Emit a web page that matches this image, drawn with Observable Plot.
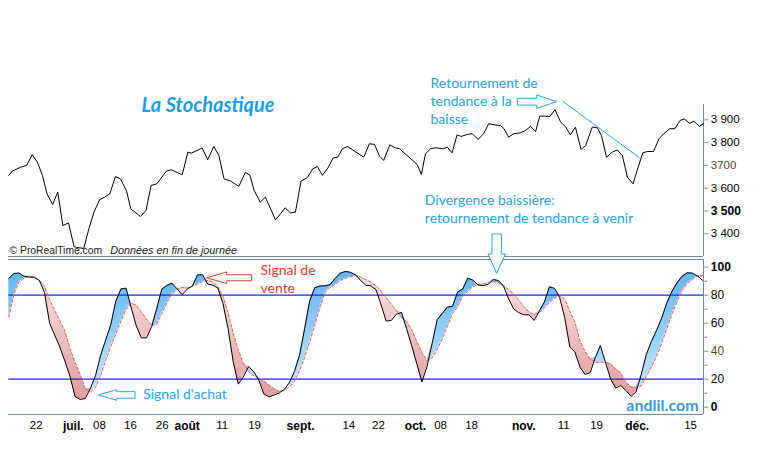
<!DOCTYPE html>
<html><head><meta charset="utf-8">
<script src="https://cdn.jsdelivr.net/npm/d3@7"></script>
<script src="https://cdn.jsdelivr.net/npm/@observablehq/plot@0.6"></script>
<style>
html,body{margin:0;padding:0;background:#fff;}
#wrap{position:relative;width:758px;height:453px;overflow:hidden;background:#fff;}
#wrap svg{position:absolute;left:0;top:0;}
</style></head><body><div id="wrap"></div>
<script>
// ---------- data ----------
// price (closing level) read at each visible vertex, x = trading-day index
const priceDay = [0,0.7,2.3,3.5,4.6,5.6,6.6,7.5,8.6,9.6,10.6,11.7,12.8,13.3,14.7,15.7,16.7,17.8,18.8,19.8,20.9,21.9,23.1,23.9,25.8,26.9,27.9,29.0,30.9,31.8,34.0,35.1,35.8,37.6,37.9,39.0,40.2,41.2,42.2,43.5,45.1,46.4,47.3,48.1,49.3,50.3,52.3,54.2,55.2,56.2,57.3,58.5,59.6,60.5,61.5,62.6,63.6,64.5,65.4,66.4,69.6,70.7,71.7,72.7,73.5,74.7,75.8,76.6,78.1,79.6,80.1,80.9,81.7,82.7,83.7,85.2,86.0,86.9,87.9,88.7,89.9,90.9,92.0,93.1,94.1,95.4,96.4,97.1,98.0,99.0,100.3,101.3,102.3,103.3,104.1,105.2,106.1,107.1,108.2,109.2,110.1,111.1,112.2,113.1,114.4,115.4,116.2,117.2,118.3,119.3,120.3,121.3,122.4,123.2,124.3,125.2,126.4,127.5,128.4,129.6,130.6,131.6,132.4,133.5,134.3,135.4,136.2];
const priceClose = [3656,3675,3692,3700,3747,3714,3656,3575,3529,3583,3436,3448,3344,3340,3336,3422,3495,3549,3561,3575,3651,3641,3587,3510,3476,3502,3612,3619,3675,3681,3659,3758,3754,3773,3777,3725,3783,3743,3641,3631,3608,3670,3656,3590,3539,3561,3461,3514,3492,3495,3631,3646,3685,3695,3656,3690,3733,3736,3773,3783,3736,3795,3792,3740,3722,3790,3777,3773,3743,3714,3703,3660,3751,3773,3777,3773,3780,3755,3834,3827,3836,3839,3814,3839,3883,3877,3875,3861,3824,3839,3843,3853,3871,3849,3916,3916,3915,3944,3890,3868,3834,3868,3770,3787,3868,3865,3831,3736,3758,3768,3743,3648,3619,3678,3755,3761,3761,3817,3839,3861,3861,3897,3904,3885,3894,3871,3883];

// stochastic %K (black) and %D (dashed red), one value per trading day
const stochK = [92,95.5,95.8,93.5,92.9,92.8,90.5,82,60,51.5,
 43,33,22,7.5,5.5,6.2,13.5,22.5,37,48,
 59,76,84.5,85,71,58,49.5,49.5,57.5,70.4,
 84.3,87,88.6,84.5,80.3,84.5,86.5,94.5,94.6,88,
 87.2,85,74,56,32.5,16.5,21.7,29,25.5,19.5,
 9.5,7.3,8.7,10.2,12.6,17.5,25.5,37,56,76,
 85.3,86.5,86.7,87.6,92,95.8,96.9,96.4,94.5,90.5,
 87.1,86.7,84,73,61.5,62,66.5,67.7,56,44,
 31,18,29,45.5,62.5,67,71.5,72,82.2,84.4,
 92.2,90.8,87.3,86.9,87.8,91.2,90.5,86.5,77.4,70.2,
 67.5,66,66,62,68.5,75,86,84.9,78.5,64,
 43,39.4,28.5,23.4,24.7,35.5,44,31.9,20.2,13.7,
 15.5,11.9,7.8,11,23.3,37.6,47,54.8,63.5,74.3,
 82.5,88.8,93.5,96,95.8,93.8,90.7];
const stochD = [64.3,80.8,89.6,92.1,93.8,92.7,90.6,86.5,76.9,69.2,
 61.8,54.3,42.0,31.9,23.4,13.1,10.7,14.3,22.6,33.6,
 43.3,52.5,61.5,69.8,74.3,72.9,68.0,63.1,58.2,59.3,
 66.9,74.6,80.9,84.1,85.6,85.2,86.5,88.0,89.7,90.5,
 89.5,86.3,79.0,67.3,52.7,41.1,31.2,25.4,22.6,20.9,
 18.6,15.9,13.1,11.3,12.0,14.6,18.6,25.9,35.6,46.7,
 58.6,71.3,81.7,85.6,87.7,90.5,92.1,93.2,93.8,92.9,
 91.1,89.2,86.8,82.9,78.3,73.7,69.0,63.8,61.2,55.3,
 46.9,39.3,33.3,35.1,41.5,48.8,57.9,66.9,71.7,79.2,
 82.9,86.2,87.3,88.2,88.9,89.6,88.9,86.9,84.1,81.0,
 76.4,71.8,67.9,66.2,67.6,70.8,74.8,77.6,79.9,77.1,
 68.6,60.9,47.3,39.6,34.5,32.1,32.1,32.1,31.0,27.3,
 24.4,18.0,14.4,14.0,15.2,22.2,28.9,36.3,45.5,56.0,
 66.2,75.2,83.2,88.1,91.1,93.8,94.0];
const stochLevels = [80, 20];

// axes
const xDomain = [0, 136.27];
const priceDomain = [3300, 4000];
const stochDomain = [-5.2, 105.5];
const dayTicks = [5.37, 17.78, 23.86, 30.08, 41.84, 48.18, 66.67, 72.49, 84.65, 90.73, 108.82, 115.24, 133.67];
const dayTickLabels = ["22","08","16","26","11","19","14","22","08","18","11","19","15"];
const monthTicks = [12.63, 34.98, 57.2, 79.75, 100.98, 123.2];
const monthTickLabels = ["juil.","août","sept.","oct.","nov.","déc."];
const priceTicks = [3400, 3500, 3600, 3700, 3800, 3900];
const priceTickLabels = ["3 400","3 500","3 600","3700","3 800","3 900"];
const stochTicks = [0, 20, 40, 60, 80, 100];
const stochMinorTicks = [10, 30, 50, 70, 90];

// ---------- build ----------
const NS = "http://www.w3.org/2000/svg";
const frameColor = "#6f8c9b";
const blueText = "#29a3e0";
const priceRows = priceDay.map((day, i) => ({day, close: priceClose[i]}));
const stochRows = stochK.map((k, i) => ({day: i, k, d: stochD[i], hi: Math.max(k, stochD[i])}));
const fmt = (vals, labs) => { const m = new Map(vals.map((v, i) => [v, labs[i]])); return v => m.get(v); };
const sub = (vals, keep) => vals.filter(keep);
const baseStyle = {background: "transparent", fontFamily: "'Liberation Sans', Arial, sans-serif", fontSize: "11px", color: "#000"};
const annoFont = "Lato, 'Open Sans', sans-serif";

const stochPlot = Plot.plot({
  width: 758, height: 453,
  marginLeft: 8.3, marginRight: 54.7, marginTop: 259, marginBottom: 39,
  x: {domain: xDomain, axis: null, label: null},
  y: {domain: stochDomain, axis: null, label: null},
  style: baseStyle,
  marks: [
    Plot.areaY(stochRows, {x: "day", y1: "d", y2: "hi", fill: "url(#gBlue)"}),
    Plot.areaY(stochRows, {x: "day", y1: "k", y2: "hi", fill: "url(#gRed)"}),
    Plot.ruleY(stochLevels, {stroke: "#2323f2", strokeWidth: 1.2}),
    Plot.line(stochRows, {x: "day", y: "d", stroke: "#e05a5a", strokeWidth: 1, strokeDasharray: "3,2"}),
    Plot.line(stochRows, {x: "day", y: "k", stroke: "#000", strokeWidth: 1}),
    Plot.ruleY(stochDomain, {stroke: frameColor, strokeWidth: 1, shapeRendering: "crispEdges"}),
    Plot.ruleX([xDomain[1]], {stroke: frameColor, strokeWidth: 1, shapeRendering: "crispEdges"}),
    Plot.axisY({anchor: "right", ticks: stochMinorTicks, tickSize: 3, tickFormat: () => "", stroke: frameColor, label: null}),
    Plot.axisY({anchor: "right", ticks: sub(stochTicks, v => v > 0 && v < 100 && v !== 40), tickSize: 4, tickPadding: 3, stroke: frameColor, fill: "#000", fontSize: 12, label: null}),
    Plot.axisY({anchor: "right", ticks: [40], tickSize: 4, tickPadding: 3, stroke: frameColor, fill: "#6b4a2a", fontSize: 12, label: null}),
    Plot.axisY({anchor: "right", ticks: sub(stochTicks, v => v === 0 || v === 100), tickSize: 4, tickPadding: 3, stroke: frameColor, fill: "#000", fontSize: 12, fontWeight: "bold", label: null}),
    Plot.axisX({anchor: "bottom", ticks: dayTicks, tickFormat: fmt(dayTicks, dayTickLabels), tickSize: 0, tickPadding: 6.5, fill: "#000", fontSize: 11.5, label: null}),
    Plot.axisX({anchor: "bottom", ticks: monthTicks, tickFormat: fmt(monthTicks, monthTickLabels), tickSize: 0, tickPadding: 6.5, fill: "#000", fontSize: 12, fontWeight: "bold", label: null}),
    Plot.text(["Signal de"], {x: 49.35, y: 97.6, text: d => d, textAnchor: "start", fill: "#e33b2e", fontSize: 14, fontFamily: annoFont}),
    Plot.text(["vente"], {x: 49.35, y: 85.1, text: d => d, textAnchor: "start", fill: "#e33b2e", fontSize: 14, fontFamily: annoFont}),
    Plot.text(["Signal d'achat"], {x: 26.35, y: 8.9, text: d => d, textAnchor: "start", fill: blueText, fontSize: 14, fontFamily: annoFont}),
    Plot.text(["andlil.com"], {x: 135.24, y: 0.7, text: d => d, textAnchor: "end", fill: "#3b98d6", fontSize: 16, fontWeight: "bold", fontFamily: annoFont})
  ]
});

const pricePlot = Plot.plot({
  width: 758, height: 453,
  marginLeft: 8.3, marginRight: 54.7, marginTop: 96.5, marginBottom: 196.9,
  x: {domain: xDomain, axis: null, label: null},
  y: {domain: priceDomain, axis: null, label: null},
  style: baseStyle,
  marks: [
    Plot.ruleY([priceDomain[0]], {stroke: frameColor, strokeWidth: 1, shapeRendering: "crispEdges"}),
    Plot.ruleX([xDomain[1]], {y1: priceDomain[0], y2: 3967, stroke: frameColor, strokeWidth: 1, shapeRendering: "crispEdges"}),
    Plot.axisY({anchor: "right", ticks: sub(priceTicks, v => v !== 3500 && v !== 3700), tickFormat: fmt(priceTicks, priceTickLabels), tickSize: 4, tickPadding: 3, stroke: frameColor, fill: "#000", fontSize: 11.5, label: null}),
    Plot.axisY({anchor: "right", ticks: [3700], tickFormat: fmt(priceTicks, priceTickLabels), tickSize: 4, tickPadding: 3, stroke: frameColor, fill: "#5a4a3a", fontSize: 11.5, label: null}),
    Plot.axisY({anchor: "right", ticks: [3500], tickFormat: fmt(priceTicks, priceTickLabels), tickSize: 4, tickPadding: 3, stroke: frameColor, fill: "#000", fontSize: 12, fontWeight: "bold", label: null}),
    Plot.line(priceRows, {x: "day", y: "close", stroke: "#000", strokeWidth: 1}),
    Plot.link([0], {x1: 108.57, y1: 3981.6, x2: 123.67, y2: 3733.3, stroke: blueText, strokeWidth: 1}),
    Plot.text(["La Stochastique"], {x: 39.06, y: 3962.7, text: d => d, fill: "#1a9de3", fontSize: 20, fontWeight: "bold", fontStyle: "italic", fontFamily: annoFont}),
    Plot.text(["Retournement de"], {x: 82.69, y: 4060.5, text: d => d, textAnchor: "start", fill: blueText, fontSize: 14, fontFamily: annoFont}),
    Plot.text(["tendance à la"], {x: 82.69, y: 3981.6, text: d => d, textAnchor: "start", fill: blueText, fontSize: 14, fontFamily: annoFont}),
    Plot.text(["baisse"], {x: 82.69, y: 3902.6, text: d => d, textAnchor: "start", fill: blueText, fontSize: 14, fontFamily: annoFont}),
    Plot.text(["Divergence baissière:"], {x: 81.57, y: 3546.1, text: d => d, textAnchor: "start", fill: blueText, fontSize: 14, fontFamily: annoFont}),
    Plot.text(["retournement de tendance à venir"], {x: 81.57, y: 3468.4, text: d => d, textAnchor: "start", fill: blueText, fontSize: 14, fontFamily: annoFont}),
    Plot.text(["© ProRealTime.com"], {x: 0.15, y: 3326.8, text: d => d, textAnchor: "start", fill: "#222", fontSize: 10.3, fontFamily: "'Liberation Sans', Arial, sans-serif"}),
    Plot.text(["Données en fin de journée"], {x: 19.9, y: 3326.8, text: d => d, textAnchor: "start", fill: "#222", fontSize: 10.8, fontStyle: "italic", fontFamily: "'Liberation Sans', Arial, sans-serif"})
  ]
});

// gradients for the %K/%D fill
function scaler(s) {
  if (s && typeof s.apply === "function") return v => s.apply(v);
  const [d0, d1] = s.domain, [r0, r1] = s.range;
  return v => r0 + (v - d0) / (d1 - d0) * (r1 - r0);
}
const syS = scaler(stochPlot.scale("y"));
function addGradient(svg, id, top, bottom, y1, y2) {
  let defs = svg.querySelector("defs");
  if (!defs) { defs = document.createElementNS(NS, "defs"); svg.insertBefore(defs, svg.firstChild); }
  const g = document.createElementNS(NS, "linearGradient");
  g.setAttribute("id", id); g.setAttribute("gradientUnits", "userSpaceOnUse");
  g.setAttribute("x1", 0); g.setAttribute("x2", 0); g.setAttribute("y1", y1); g.setAttribute("y2", y2);
  [[0, top], [1, bottom]].forEach(([o, c]) => {
    const s = document.createElementNS(NS, "stop");
    s.setAttribute("offset", o); s.setAttribute("stop-color", c); g.appendChild(s);
  });
  defs.appendChild(g);
}
addGradient(stochPlot, "gBlue", "#5cb3f2", "#d6eefd", syS(100), syS(0));
addGradient(stochPlot, "gRed", "#fae6e6", "#df9898", syS(100), syS(0));

// hollow block arrows (annotations), anchored at their tip in data units
function blockArrow(chart, tipX, tipY, angle, h, H, L, s, color) {
  const sx = scaler(chart.scale("x")), sy = scaler(chart.scale("y"));
  const tx = sx(tipX), ty = sy(tipY);
  const pts = [[0,0],[-h,-H],[-h,-s],[-h-L,-s],[-h-L,s],[-h,s],[-h,H]];
  const p = document.createElementNS(NS, "path");
  p.setAttribute("d", "M" + pts.map(q => q.join(",")).join("L") + "Z");
  p.setAttribute("transform", `translate(${tx},${ty}) rotate(${angle})`);
  p.setAttribute("fill", "#fff"); p.setAttribute("stroke", color); p.setAttribute("stroke-width", 1);
  chart.appendChild(p);
}
blockArrow(stochPlot, 38.9, 92.1, 180, 20, 5.8, 25, 3, "#e33b2e");     // signal de vente
blockArrow(stochPlot, 17.65, 8.4, 180, 18.4, 5.3, 18.3, 3.3, blueText); // signal d'achat
blockArrow(pricePlot, 107.53, 3977.2, 0, 20, 6.7, 19.4, 3.4, blueText); // retournement
blockArrow(pricePlot, 95.76, 3224.6, 90, 19.3, 8.7, 20, 4.7, blueText); // divergence

const wrap = document.getElementById("wrap");
wrap.appendChild(stochPlot);
wrap.appendChild(pricePlot);
</script></body></html>
